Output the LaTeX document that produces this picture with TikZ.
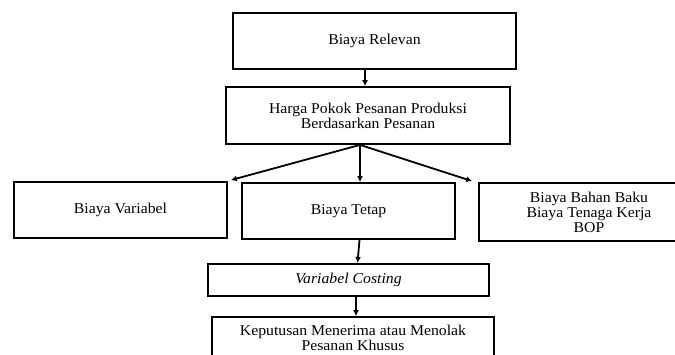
\documentclass[tikz,border=0pt]{standalone}
\usepackage{fontspec}
\setmainfont{Liberation Serif}[FakeStretch=1.05]
\usetikzlibrary{arrows.meta}

\begin{document}
\begin{tikzpicture}[x=1pt, y=-1pt,
		kotak/.style={draw, line width=1.8pt, align=center, inner sep=2pt,
			font=\fontsize{15}{15}\selectfont},
		panah/.style={line width=1.8pt, -{Latex[length=6pt, width=6pt]}}]
		\path[use as bounding box, clip] (0,0) rectangle (675,354);
		
		% ---------------------- atas ----------------------
		\node (rel) [kotak, minimum width=283pt, minimum height=56pt] at (374.5,41) {Biaya Relevan};
		\node (hpp) [kotak, minimum width=284pt, minimum height=57pt] at (368,115.5)
			{Harga Pokok Pesanan Produksi\\Berdasarkan Pesanan};
		\draw[panah] (rel.south -| 365,0) -- (hpp.north -| 365,0);
		
		% ---------------------- tiga cabang ----------------------
		\node (var) [kotak, minimum width=213pt, minimum height=56pt] at (120.5,210) {Biaya Variabel};
		\node (tetap) [kotak, minimum width=213pt, minimum height=56pt] at (348.5,211) {Biaya Tetap};
		\node (bahan) [kotak, minimum width=220pt, minimum height=58pt] at (589,212)
			{Biaya Bahan Baku\\Biaya Tenaga Kerja\\BOP};
		\coordinate (fork) at ([xshift=-8pt]hpp.south);
		\draw[panah] (fork) -- ([xshift=3pt, yshift=1pt]var.north east);
		\draw[panah] (fork) -- (tetap.north -| fork);
		\draw[panah] (fork) -- ([xshift=-6pt, yshift=1pt]bahan.north west);
		
		% ---------------------- bawah ----------------------
		\node (vc) [kotak, minimum width=281pt, minimum height=32pt] at (348.5,280) {\textit{Variabel Costing}};
		\node (kep) [kotak, minimum width=282pt, minimum height=42pt] at (353,338)
			{Keputusan Menerima atau Menolak\\Pesanan Khusus};
		\draw[panah] ([xshift=11pt]tetap.south) -- ([xshift=9pt]vc.north);
		\draw[panah] ([xshift=7.5pt]vc.south) -- (kep.north -| 356,0);
	\end{tikzpicture}
\end{document}
